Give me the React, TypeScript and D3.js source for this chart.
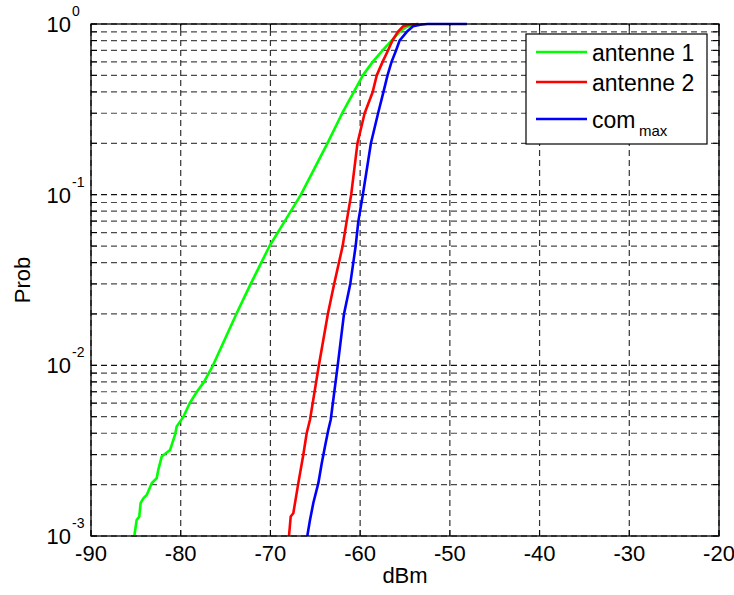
import React from "react";
import * as d3 from "d3";

const xTicks = [-90, -80, -70, -60, -50, -40, -30, -20];
const yDecades = [-3, -2, -1, 0];
const seriesNames = ["antenne 1", "antenne 2", "com"];
const seriesColors = ["#00ff00", "#ff0000", "#0000ff"];

const greenDbm = [-85.17, -84.91, -84.62, -84.47, -84.17, -83.79, -83.23, -82.68, -82.5, -82.12, -81.19, -81.0, -80.64, -80.45, -80.08, -79.7, -79.0, -78.2, -77.4, -76.4, -73.8, -72.2, -70.1, -68.4, -66.6, -63.65, -62.0, -60.7, -59.7, -58.6, -57.5, -56.5, -55.6, -54.8, -53.5];
const greenProb = [0.001, 0.00124, 0.0013, 0.00156, 0.00166, 0.00174, 0.00204, 0.00218, 0.00244, 0.00292, 0.00319, 0.00342, 0.00391, 0.00438, 0.00468, 0.005, 0.006, 0.007, 0.008, 0.01, 0.02, 0.03, 0.05, 0.07, 0.1, 0.2, 0.3, 0.4, 0.5, 0.6, 0.7, 0.8, 0.9, 0.964, 1.0];

const redDbm = [-67.93, -67.74, -67.45, -66.89, -66.33, -65.96, -65.59, -64.6, -63.6, -62.9, -61.95, -61.5, -61.0, -60.3, -59.5, -58.6, -58.15, -57.5, -56.9, -56.4, -55.8, -55.2, -54.6, -53.5];
const redProb = [0.001, 0.0013, 0.00136, 0.00204, 0.003, 0.004, 0.0048, 0.01, 0.02, 0.03, 0.05, 0.07, 0.1, 0.2, 0.3, 0.4, 0.5, 0.6, 0.7, 0.8, 0.9, 0.97, 0.99, 1.0];

const blueDbm = [-65.89, -65.59, -65.22, -64.66, -64.28, -63.92, -63.55, -63.28, -62.5, -61.8, -61.1, -60.5, -60.2, -59.7, -58.8, -58.0, -57.4, -56.95, -56.5, -56.0, -55.6, -54.8, -54.1, -53.3, -52.5, -48.1];
const blueProb = [0.001, 0.00124, 0.00156, 0.00204, 0.00267, 0.00335, 0.00418, 0.0048, 0.01, 0.02, 0.03, 0.05, 0.07, 0.1, 0.2, 0.3, 0.4, 0.5, 0.6, 0.7, 0.8, 0.9, 0.97, 0.99, 1.0, 1.0];

const W = 734;
const H = 595;
const L = 91, R = 719, T = 24, B = 536;
const FONT = "Liberation Sans, Arial, Helvetica, sans-serif";

export default function App() {
  const x = d3.scaleLinear().domain([-90, -20]).range([L, R]);
  const y = d3.scaleLog().domain([1e-3, 1]).range([B, T]);

  const minor: number[] = [];
  yDecades.forEach((e) => {
    if (e < 0) for (let k = 2; k <= 9; k++) minor.push(k * Math.pow(10, e));
  });
  const majors = yDecades.map((e) => Math.pow(10, e));

  const line = d3
    .line<[number, number]>()
    .x((d) => x(d[0]))
    .y((d) => y(d[1]));

  const series = [
    d3.zip(greenDbm, greenProb) as [number, number][],
    d3.zip(redDbm, redProb) as [number, number][],
    d3.zip(blueDbm, blueProb) as [number, number][],
  ];

  const dash = "6,4";

  return (
    <svg width={W} height={H} style={{ position: "absolute", left: 0, top: 0, background: "#fff" }} fontFamily={FONT}>
      <rect x={0} y={0} width={W} height={H} fill="#fff" />
      <defs>
        <clipPath id="plotclip">
          <rect x={L} y={T - 2} width={R - L} height={B - T + 2} />
        </clipPath>
      </defs>
      {/* grid */}
      {minor.map((v, i) => (
        <line key={"gm" + i} x1={L} x2={R} y1={y(v)} y2={y(v)} stroke="#4a4a4a" strokeWidth={1.2} strokeDasharray={dash} />
      ))}
      {majors.map((v, i) => (
        <line key={"gM" + i} x1={L} x2={R} y1={y(v)} y2={y(v)} stroke="#111" strokeWidth={1.2} strokeDasharray={dash} />
      ))}
      {xTicks.map((v, i) => (
        <line key={"gx" + i} x1={x(v)} x2={x(v)} y1={B} y2={T} stroke="#333" strokeWidth={1.2} strokeDasharray={dash} />
      ))}
      {/* ticks */}
      {xTicks.map((v, i) => (
        <g key={"tx" + i}>
          <line x1={x(v)} x2={x(v)} y1={B} y2={B - 6} stroke="#000" />
          <line x1={x(v)} x2={x(v)} y1={T} y2={T + 6} stroke="#000" />
        </g>
      ))}
      {minor.concat(majors).map((v, i) => (
        <g key={"ty" + i}>
          <line x1={L} x2={L + 6} y1={y(v)} y2={y(v)} stroke="#000" />
          <line x1={R} x2={R - 6} y1={y(v)} y2={y(v)} stroke="#000" />
        </g>
      ))}
      {/* curves */}
      <g clipPath="url(#plotclip)">
        {series.map((s, i) => (
          <path key={"s" + i} d={line(s) || ""} fill="none" stroke={seriesColors[i]} strokeWidth={2.6} strokeLinejoin="round" />
        ))}
      </g>
      {/* frame */}
      <rect x={L} y={T} width={R - L} height={B - T} fill="none" stroke="#000" strokeWidth={1.3} />
      {/* x tick labels */}
      {xTicks.map((v, i) => (
        <text key={"xl" + i} x={x(v)} y={561} textAnchor="middle" fontSize={22} fill="#000">
          {v}
        </text>
      ))}
      {/* y tick labels */}
      {yDecades.map((e, i) => (
        <g key={"yl" + i}>
          <text x={71} y={y(Math.pow(10, e)) + 8} textAnchor="end" fontSize={22} fill="#000">
            10
          </text>
          <text x={72} y={y(Math.pow(10, e)) - 8} textAnchor="start" fontSize={14} fill="#000">
            {e}
          </text>
        </g>
      ))}
      {/* axis labels */}
      <text x={(L + R) / 2} y={583} textAnchor="middle" fontSize={22} fill="#000">
        dBm
      </text>
      <text transform={`translate(30,${(T + B) / 2}) rotate(-90)`} textAnchor="middle" fontSize={22} fill="#000">
        Prob
      </text>
      {/* legend */}
      <rect x={526} y={34} width={181} height={110} fill="#fff" stroke="#000" strokeWidth={1.2} />
      {seriesNames.map((n, i) => {
        const ry = [52, 82, 119][i];
        return (
          <g key={"lg" + i}>
            <line x1={536} x2={587} y1={ry} y2={ry} stroke={seriesColors[i]} strokeWidth={2.6} />
            <text x={592} y={ry + 8.5} fontSize={23} fill="#000">
              {n}
            </text>
            {i === 2 && (
              <text x={639} y={136} fontSize={15} fill="#000">
                max
              </text>
            )}
          </g>
        );
      })}
    </svg>
  );
}
